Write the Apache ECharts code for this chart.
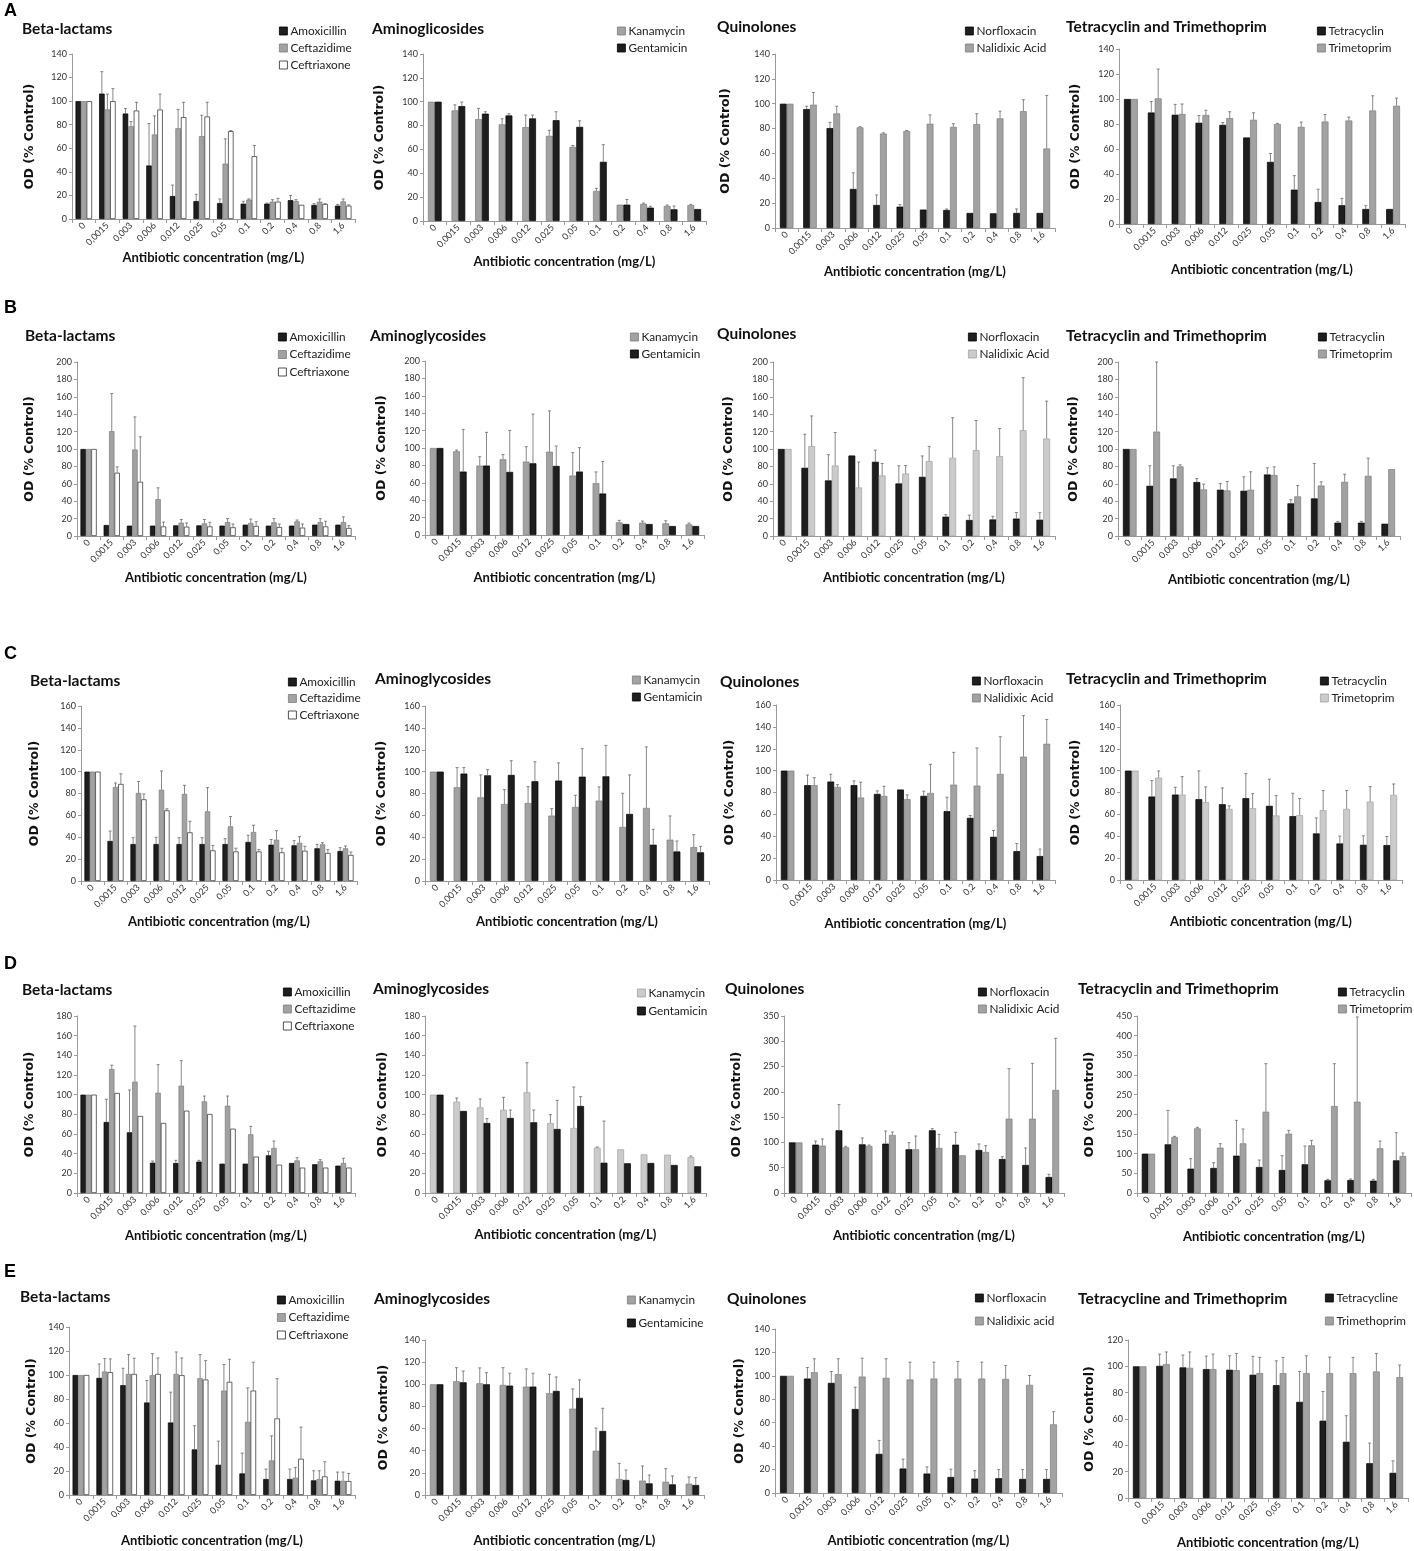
<!DOCTYPE html>
<html><head><meta charset="utf-8">
<script src="https://cdn.jsdelivr.net/npm/echarts@6/dist/echarts.min.js"></script>
<style>html,body{margin:0;padding:0;background:#fff}#c{width:1414px;height:1551px}</style>
</head><body><div id="c"></div><script>
// ---------- categories ----------
const concentrations = ['0','0,0015','0,003','0,006','0,012','0,025','0,05','0,1','0,2','0,4','0,8','1,6'];

// ---------- Row A ----------
const A1_amoxicillin      = [100,106.4,89.5,45.4,19.5,15.2,13.5,13,13,16,11.9,11.3];
const A1_amoxicillin_err  = [null,125,93.7,81,28.8,21,17,15,13.5,20,13,12.4];
const A1_ceftazidime      = [100,93,78.7,71.7,77,70.3,47,16.4,14.7,15.2,14.7,15];
const A1_ceftazidime_err  = [null,106,82.7,87.5,93,88,68,17,16.4,16.4,17,17];
const A1_ceftriaxone      = [100,100,92,92.9,86.4,87,74.5,53.3,14.7,12,12.7,11.3];
const A1_ceftriaxone_err  = [null,110.6,99,106,99,99,75,62.4,17.5,null,13,12];

const A2_kanamycin        = [100,92.7,85.4,81,78.7,71.4,62.2,25.2,13.7,14.3,12.6,13.4];
const A2_kanamycin_err    = [null,97.4,94.4,85.7,88.8,76,63.3,27.4,null,15,13.4,14];
const A2_gentamicin       = [100,96.3,90,88.5,86,84.5,78.9,49.6,13.7,11.2,9.8,10];
const A2_gentamicin_err   = [null,99.7,91.6,89.9,88.8,91.6,84,64,18,12.3,12.6,null];

const A3_norfloxacin      = [100,95.7,80.4,31.4,18.5,17.2,14.8,14.5,12.1,11.8,12.1,12.1];
const A3_norfloxacin_err  = [null,98,85,44.4,26.6,18.8,null,15.3,null,null,15.3,null];
const A3_nalidixic        = [100,99.2,92.2,81,76,78,83.9,81.4,83.6,88.2,94,64];
const A3_nalidixic_err    = [null,109,98,81.5,76.6,78.5,91,83.9,92,94,103.2,106.7];

const A4_tetracyclin      = [100,89.2,87.4,81,79.3,69.2,49.7,27.5,17.6,15,12,12];
const A4_tetracyclin_err  = [null,98,95.7,86.8,81.2,null,56.4,38.7,27.8,20.5,14.7,null];
const A4_trimetoprim      = [100,100.5,88,87.2,84.7,83.4,80,77.7,82,82.8,90.8,94.6];
const A4_trimetoprim_err  = [null,124,96,91,89.8,89,80.5,81.5,87.6,85.5,102.6,100.7];

// ---------- Row B ----------
const B1_amoxicillin      = [100,12.6,11.9,11.9,12.2,12.2,11.9,13,11.9,11.9,13,13];
const B1_amoxicillin_err  = [null,null,null,null,null,null,null,null,null,null,null,null];
const B1_ceftazidime      = [100,120.5,99.4,42.4,15.3,14.5,16,15,15.7,16.8,16,16];
const B1_ceftazidime_err  = [null,163.7,136.9,55.4,19,19,20,19.5,20,18.4,20,22];
const B1_ceftriaxone      = [100,72.7,62.3,11,10.7,11,10,11.5,10.3,9.6,11,9.2];
const B1_ceftriaxone_err  = [null,79.5,114,16,15,15.7,13.8,16.4,13.8,13.8,17,11.9];

const B2_kanamycin        = [100,96.2,79.8,87,84.4,95.8,68.3,59.5,14.5,14.1,13.4,12.2];
const B2_kanamycin_err    = [null,97.7,90,92.4,101.5,142.7,94.7,72.5,16.8,16,16.4,13.7];
const B2_gentamicin       = [100,72.9,79.8,72.5,82.4,79.4,72.9,47.7,12.6,12.6,10.3,10.3];
const B2_gentamicin_err   = [null,121.4,118,120.2,139,102.3,100.4,84.4,null,null,null,null];

const B3_norfloxacin      = [100,78.4,63.9,92.5,85.3,60.4,68,22.2,18.4,19,20,18.7];
const B3_norfloxacin_err  = [null,117,93.5,null,98.7,80.7,92,24.5,24,22.6,27,26.8];
const B3_nalidixic        = [100,103.3,81,55.8,69.6,71.9,86,89.9,98.7,91.8,121.6,112];
const B3_nalidixic_err    = [null,138,119,85,83.4,81,103,136,132.7,123.5,182,155];

const B4_tetracyclin      = [100,57.7,66.2,62,53.2,52,70.7,37.5,43.2,15.3,15.3,14.1];
const B4_tetracyclin_err  = [null,80.7,80.7,66,60.4,68,78.4,41.7,83.4,16.8,16.8,null];
const B4_trimetoprim      = [100,120,80,53.5,52.4,53.2,70,45.5,58,62.3,69.2,76.9];
const B4_trimetoprim_err  = [null,200,81.8,59.7,62.7,73.8,79.5,58,62.3,71,89.5,null];

// ---------- Row C ----------
const C1_amoxicillin      = [100,36.6,33.8,33.8,33.8,33.8,33.8,35.7,33.2,32.6,29.9,27.4];
const C1_amoxicillin_err  = [null,45.7,39.6,40,39.6,39.6,38.7,41.8,38,36.9,33.5,30.5];
const C1_ceftazidime      = [100,86,80.5,83.5,79.6,63.7,50,44.8,37.8,35,33.5,29.9];
const C1_ceftazidime_err  = [null,89.6,91,100.6,87.5,85.4,59,51,46,40.5,35,32];
const C1_ceftriaxone      = [100,88.7,74.7,64.6,44.5,28,27,27,26.2,27.7,25.6,23.8];
const C1_ceftriaxone_err  = [null,98,79.6,66,54.6,32.6,30,28.7,29.9,31.7,28.7,26.5];

const C2_kanamycin        = [100,85.7,76.5,70.4,71.3,59.8,67.7,73.5,49.4,66.8,37.8,31];
const C2_kanamycin_err    = [null,103.7,97,83.5,86.3,66.2,78.4,86,80.2,122.6,59.5,42.4];
const C2_gentamicin       = [100,98.2,96.6,97,91.2,91.8,95.4,95.7,61.3,33.2,27,26.2];
const C2_gentamicin_err   = [null,103.7,101.8,110,109,108,121,124,97,47.3,36.6,31.7];

const C3_norfloxacin      = [100,86.7,90,86.7,78.7,82.7,76.9,62.9,56.8,39.5,26.4,21.9];
const C3_norfloxacin_err  = [null,96,96.7,90.6,81.5,null,81.2,75.7,59,45.3,33.4,28.3];
const C3_nalidixic        = [100,86.7,85.1,75.4,76.9,73.9,79.6,87.2,86.3,97,112.8,124.6];
const C3_nalidixic_err    = [null,93.6,87.2,89.4,85.7,77.8,105.8,116.7,120.7,131,150.3,146.8];

const C4_tetracyclin      = [100,76.3,78.1,73.9,69.3,74.8,67.8,58.4,42.6,33.4,32.2,31.9];
const C4_tetracyclin_err  = [null,90.9,84.8,99.7,84.2,97.3,92.1,79.3,56.8,40.1,40.4,39.8];
const C4_trimetoprim      = [100,93.6,78.1,71.1,65,65.7,59,59.3,63.8,65,71.7,77.8];
const C4_trimetoprim_err  = [null,99.7,94.5,85.1,67.8,79,77.2,74.5,81.8,81.8,85.4,87.8];

// ---------- Row D ----------
const D1_amoxicillin      = [100,72.2,61.7,30.8,30.5,31.9,29.8,29.8,38.3,30.5,29.2,27.8];
const D1_amoxicillin_err  = [null,95.3,104.7,32.5,33.2,33.2,null,null,42.4,null,null,null];
const D1_ceftazidime      = [100,126.1,113.2,102,109.2,93.2,88.8,59.7,45.8,33.2,32.2,30.5];
const D1_ceftazidime_err  = [null,130,169.8,130.5,134.6,98.6,98.6,67.8,52.9,35.9,33.9,35.3];
const D1_ceftriaxone      = [100,101.7,78.3,71.2,83.7,80.3,65.4,37,28.8,25.8,25.8,25.8];
const D1_ceftriaxone_err  = [null,null,null,null,null,null,null,null,null,null,null,null];

const D2_kanamycin        = [100,92.9,87.1,84.7,102.4,71.2,66.1,46.1,44.4,39.3,39,36.6];
const D2_kanamycin_err    = [null,96.6,95.6,97.3,132.5,79.7,107.8,46.8,null,null,null,37.6];
const D2_gentamicin       = [100,83.4,71.2,76.3,71.9,65.1,88.5,30.8,30.2,30.5,28.5,27.1];
const D2_gentamicin_err   = [null,null,75.6,84.4,84.4,94.2,98,73.2,null,null,null,null];

const D3_norfloxacin      = [100,95.6,124,96.2,97.6,86.4,124,95.6,85,67.2,55.4,31.6];
const D3_norfloxacin_err  = [null,102.8,174.7,108.8,122.6,99.5,127.2,120,96.9,71.9,89,36.9];
const D3_nalidixic        = [100,93.6,90.3,93,114.7,86.4,89,74.5,81,147,147,203.7];
const D3_nalidixic_err    = [null,106.8,92.3,94.9,120.6,112.7,116,null,93.6,245.9,256.4,305.9];

const D4_tetracyclin      = [100,123.7,61.9,63.6,94.9,66.1,58.5,72.9,32.2,33,31.4,83];
const D4_tetracyclin_err  = [null,210,87.3,77.1,184.7,83.9,94.9,119.5,34.7,35.6,34.7,153.4];
const D4_trimetoprim      = [100,142.4,164.4,115.3,126.3,206.8,150.8,121.2,221.2,232.2,113.6,94.1];
const D4_trimetoprim_err  = [null,144,167,125.4,162.7,328.8,159.3,133.9,328.8,447.5,132.2,101.7];

// ---------- Row E ----------
const E1_amoxicillin      = [100,97.6,91.5,77.1,60.4,38,25.2,18,13.3,13.3,12.2,11.9];
const E1_amoxicillin_err  = [null,109.2,105.6,95.4,85.7,57.7,44.9,34.9,21.6,21.6,20.2,19.1];
const E1_ceftazidime      = [100,102.9,100.9,99.8,100.9,97.3,87,61,28.8,14.4,13.3,11.9];
const E1_ceftazidime_err  = [null,113.7,117,117.8,119.2,117,108.7,89.3,49.3,23,20.2,19.1];
const E1_ceftriaxone      = [100,102.3,100.9,100.9,99.8,96.2,94.3,87,63.8,30.2,15.5,11.6];
const E1_ceftriaxone_err  = [null,113.4,114,114.2,114.2,112,113.1,110.6,97,56.6,27.7,18];

const E2_kanamycin        = [100,102.7,100.9,99.4,97.9,91.9,78,40,14.5,13,12,10.2];
const E2_kanamycin_err    = [null,115,114.8,115,113.9,109,95.8,60.5,28.6,26.2,23.8,16.3];
const E2_gentamicine      = [100,101.8,100,98.8,97.9,94,87.7,57.8,13.6,10.5,9.6,9];
const E2_gentamicine_err  = [null,112,110.5,110,110,106.6,104,78.3,22.6,18,17.2,15.7];

const E3_norfloxacin      = [100,97.7,94,71.7,33.4,20.9,16.6,13.7,12.3,12.6,12,12];
const E3_norfloxacin_err  = [null,107.1,103.7,90.3,44.9,28.9,22.3,20.3,19.1,20,20,20];
const E3_nalidixic        = [100,103.1,101.4,99.4,98.3,96.9,97.7,97.7,97.7,97.4,92.3,58.6];
const E3_nalidixic_err    = [null,114.6,114.6,115.1,114.6,111.7,111.7,112.3,111.7,108.9,100.3,69.4];

const E4_tetracycline     = [100,100.4,99.2,97.9,97.4,93.6,85.7,73,58.7,42.7,26.4,19.1];
const E4_tetracycline_err = [null,109.3,108.6,107.8,108,107.6,104.2,96.1,80.9,62.5,41.7,28.2];
const E4_trimethoprim     = [100,101.7,98.9,97.9,97.1,94.8,94.8,94.8,94.8,94.8,96.1,91.8];
const E4_trimethoprim_err = [null,110.9,110.9,109.3,109.8,106.8,106.8,108,107,106.8,109.8,101];

// ---------- styles ----------
const BLACK = {color:'#1e1e1e', borderColor:'#000000'};
const GRAY  = {color:'#a2a2a2', borderColor:'#7c7c7c'};
const LIGHT = {color:'#cbcbcb', borderColor:'#a2a2a2'};
const WHITE = {color:'#ffffff', borderColor:'#262626'};

// layout: t = title [x, centerY]; lg = legend [x, firstCenterY, spacing];
// g = grid [left, top, width, height]; y = [max, interval]; ng = [xNameGap, yNameGap]
const panels = [
 {title:'Beta-lactams', t:[22,30], lg:[279,31,17], g:[72,54,283,165], y:[140,20], ng:[32,36],
  s:[['Amoxicillin',A1_amoxicillin,A1_amoxicillin_err,BLACK],['Ceftazidime',A1_ceftazidime,A1_ceftazidime_err,GRAY],['Ceftriaxone',A1_ceftriaxone,A1_ceftriaxone_err,WHITE]]},
 {title:'Aminoglicosides', t:[372,30], lg:[617,31,17], g:[423,54,283,167], y:[140,20], ng:[34,37],
  s:[['Kanamycin',A2_kanamycin,A2_kanamycin_err,GRAY],['Gentamicin',A2_gentamicin,A2_gentamicin_err,BLACK]]},
 {title:'Quinolones', t:[717,28], lg:[965,31,17], g:[775,54,280,174], y:[140,20], ng:[37,43],
  s:[['Norfloxacin',A3_norfloxacin,A3_norfloxacin_err,BLACK],['Nalidixic Acid',A3_nalidixic,A3_nalidixic_err,GRAY]]},
 {title:'Tetracyclin and Trimethoprim', t:[1066,28], lg:[1317,31,17], g:[1119,49,286,175], y:[140,20], ng:[39,37],
  s:[['Tetracyclin',A4_tetracyclin,A4_tetracyclin_err,BLACK],['Trimetoprim',A4_trimetoprim,A4_trimetoprim_err,GRAY]]},

 {title:'Beta-lactams', t:[25,337], lg:[278,337,17.5], g:[77,362,278,174], y:[200,20], ng:[35,41],
  s:[['Amoxicillin',B1_amoxicillin,B1_amoxicillin_err,BLACK],['Ceftazidime',B1_ceftazidime,B1_ceftazidime_err,GRAY],['Ceftriaxone',B1_ceftriaxone,B1_ceftriaxone_err,WHITE]]},
 {title:'Aminoglycosides', t:[370,337], lg:[630,337,17], g:[425,361,279,174], y:[200,20], ng:[36,37],
  s:[['Kanamycin',B2_kanamycin,B2_kanamycin_err,GRAY],['Gentamicin',B2_gentamicin,B2_gentamicin_err,BLACK]]},
 {title:'Quinolones', t:[717,335], lg:[968,337,17], g:[773,362,282,174], y:[200,20], ng:[35,38],
  s:[['Norfloxacin',B3_norfloxacin,B3_norfloxacin_err,BLACK],['Nalidixic Acid',B3_nalidixic,B3_nalidixic_err,LIGHT]]},
 {title:'Tetracyclin and Trimethoprim', t:[1066,337], lg:[1318,337,17], g:[1118,362,282,174], y:[200,20], ng:[37,38],
  s:[['Tetracyclin',B4_tetracyclin,B4_tetracyclin_err,BLACK],['Trimetoprim',B4_trimetoprim,B4_trimetoprim_err,GRAY]]},

 {title:'Beta-lactams', t:[30,682], lg:[288,682,16.5], g:[81,706,276,175], y:[160,20], ng:[34,40],
  s:[['Amoxicillin',C1_amoxicillin,C1_amoxicillin_err,BLACK],['Ceftazidime',C1_ceftazidime,C1_ceftazidime_err,GRAY],['Ceftriaxone',C1_ceftriaxone,C1_ceftriaxone_err,WHITE]]},
 {title:'Aminoglycosides', t:[375,680], lg:[632,680,17], g:[425,706,284,175], y:[160,20], ng:[34,37],
  s:[['Kanamycin',C2_kanamycin,C2_kanamycin_err,GRAY],['Gentamicin',C2_gentamicin,C2_gentamicin_err,BLACK]]},
 {title:'Quinolones', t:[720,683], lg:[972,681,17], g:[776,705,279,175], y:[160,20], ng:[37,40],
  s:[['Norfloxacin',C3_norfloxacin,C3_norfloxacin_err,BLACK],['Nalidixic Acid',C3_nalidixic,C3_nalidixic_err,GRAY]]},
 {title:'Tetracyclin and Trimethoprim', t:[1066,680], lg:[1320,681,17], g:[1120,705,282,175], y:[160,20], ng:[35,38],
  s:[['Tetracyclin',C4_tetracyclin,C4_tetracyclin_err,BLACK],['Trimetoprim',C4_trimetoprim,C4_trimetoprim_err,LIGHT]]},

 {title:'Beta-lactams', t:[22,991], lg:[283,992,17], g:[77,1016,278,177], y:[180,20], ng:[36,41],
  s:[['Amoxicillin',D1_amoxicillin,D1_amoxicillin_err,BLACK],['Ceftazidime',D1_ceftazidime,D1_ceftazidime_err,GRAY],['Ceftriaxone',D1_ceftriaxone,D1_ceftriaxone_err,WHITE]]},
 {title:'Aminoglycosides', t:[373,990], lg:[637,993,18], g:[425,1016,281,177], y:[180,20], ng:[35,36],
  s:[['Kanamycin',D2_kanamycin,D2_kanamycin_err,LIGHT],['Gentamicin',D2_gentamicin,D2_gentamicin_err,BLACK]]},
 {title:'Quinolones', t:[725,990], lg:[978,992,17], g:[784,1016,280,177], y:[350,50], ng:[36,41],
  s:[['Norfloxacin',D3_norfloxacin,D3_norfloxacin_err,BLACK],['Nalidixic Acid',D3_nalidixic,D3_nalidixic_err,GRAY]]},
 {title:'Tetracyclin and Trimethoprim', t:[1078,990], lg:[1338,992,17], g:[1137,1016,274,177], y:[450,50], ng:[37,41],
  s:[['Tetracyclin',D4_tetracyclin,D4_tetracyclin_err,BLACK],['Trimetoprim',D4_trimetoprim,D4_trimetoprim_err,GRAY]]},

 {title:'Beta-lactams', t:[20,1298], lg:[277,1300,17.5], g:[69,1327,286,168], y:[140,20], ng:[39,31],
  s:[['Amoxicillin',E1_amoxicillin,E1_amoxicillin_err,BLACK],['Ceftazidime',E1_ceftazidime,E1_ceftazidime_err,GRAY],['Ceftriaxone',E1_ceftriaxone,E1_ceftriaxone_err,WHITE]]},
 {title:'Aminoglycosides', t:[374,1300], lg:[627,1300,23], g:[425,1340,279,155], y:[140,20], ng:[39,35],
  s:[['Kanamycin',E2_kanamycin,E2_kanamycin_err,GRAY],['Gentamicine',E2_gentamicine,E2_gentamicine_err,BLACK]]},
 {title:'Quinolones', t:[727,1300], lg:[975,1298,23], g:[775,1329,287,164], y:[140,20], ng:[41,29],
  s:[['Norfloxacin',E3_norfloxacin,E3_norfloxacin_err,BLACK],['Nalidixic acid',E3_nalidixic,E3_nalidixic_err,GRAY]]},
 {title:'Tetracycline and Trimethoprim', t:[1078,1300], lg:[1325,1298,23], g:[1128,1340,280,158], y:[120,20], ng:[38,32],
  s:[['Tetracycline',E4_tetracycline,E4_tetracycline_err,BLACK],['Trimethoprim',E4_trimethoprim,E4_trimethoprim_err,GRAY]]}
];

// panel letters: [text, x, centerY]
const rowLetters = [['A',4,12],['B',4,309],['C',4,655],['D',4,965],['E',4,1273]];

const FONT = 'Lato, "Open Sans", sans-serif';
const option = {animation:false, backgroundColor:'#ffffff',
  title:[], legend:[], grid:[], xAxis:[], yAxis:[], series:[]};

rowLetters.forEach(([txt,x,cy])=>{
  option.title.push({text:txt, left:x, top:cy-10, padding:0,
    textStyle:{fontFamily:'"Liberation Sans", Arial, sans-serif', fontWeight:'bold', fontSize:18, color:'#000'}});
});

function errSeries(pi, k, n, gapFrac, vals, tops){
  const data=[];
  vals.forEach((v,i)=>{ if(tops[i]!=null) data.push([i,tops[i],v]); });
  return {type:'custom', xAxisIndex:pi, yAxisIndex:pi, z:5, silent:true,
    encode:{x:0,y:1}, data:data,
    renderItem:function(params,api){
      const i=api.value(0), top=api.value(1), v=api.value(2);
      const p0=api.coord([i,v]), p1=api.coord([i,top]);
      const band=api.size([1,0])[0];
      const inner=band*(1-gapFrac), w=inner/n;
      const x=p0[0]-inner/2+w*(k+0.5);
      return {type:'group', children:[
        {type:'line', shape:{x1:x,y1:p0[1],x2:x,y2:p1[1]}, style:{stroke:'#6a6a6a',lineWidth:0.8}},
        {type:'line', shape:{x1:x-1.5,y1:p1[1],x2:x+1.5,y2:p1[1]}, style:{stroke:'#6a6a6a',lineWidth:0.8}}]};
    }};
}

panels.forEach((p,pi)=>{
  const n=p.s.length;
  const gapFrac = n===3 ? 0.30 : 0.42;
  option.title.push({text:p.title, left:p.t[0], top:p.t[1]-9, padding:0,
    textStyle:{fontFamily:FONT, fontWeight:'bold', fontSize:15.5, color:'#111'}});
  option.legend.push({orient:'vertical', left:p.lg[0], top:p.lg[1]-7, padding:0,
    itemWidth:8, itemHeight:8, itemGap:p.lg[2]-14, icon:'rect', selectedMode:false,
    textStyle:{fontFamily:FONT, fontSize:11.8, color:'#222', lineHeight:14, padding:[0,0,0,-2]},
    data:p.s.map(s=>({name:s[0], itemStyle:{color:s[3].color, borderColor:s[3].borderColor, borderWidth:0.8}}))});
  option.grid.push({left:p.g[0], top:p.g[1], width:p.g[2], height:p.g[3], containLabel:false});
  option.xAxis.push({type:'category', gridIndex:pi, data:concentrations,
    name:'Antibiotic concentration (mg/L)', nameLocation:'middle', nameGap:p.ng[0],
    nameTextStyle:{fontFamily:FONT, fontWeight:'bold', fontSize:13, color:'#111'},
    axisLine:{lineStyle:{color:'#9a9a9a', width:1}},
    axisTick:{show:true, length:4, lineStyle:{color:'#9a9a9a'}},
    axisLabel:{rotate:45, interval:0, fontFamily:FONT, fontSize:9, color:'#333', margin:5}});
  option.yAxis.push({type:'value', gridIndex:pi, min:0, max:p.y[0], interval:p.y[1],
    name:'OD (% Control)', nameLocation:'middle', nameGap:p.ng[1],
    nameTextStyle:{fontFamily:'"DejaVu Sans", sans-serif', fontWeight:'bold', fontSize:12.5, color:'#111'},
    axisLine:{show:true, lineStyle:{color:'#9a9a9a', width:1}},
    axisTick:{show:true, length:3, lineStyle:{color:'#9a9a9a'}},
    splitLine:{show:false},
    axisLabel:{fontFamily:FONT, fontSize:9, color:'#333', margin:5}});
  p.s.forEach((s,k)=>{
    option.series.push({type:'bar', name:s[0], xAxisIndex:pi, yAxisIndex:pi, data:s[1],
      barGap:'0%', barCategoryGap:(gapFrac*100)+'%', z:2,
      itemStyle:{color:s[3].color, borderColor:s[3].borderColor, borderWidth:0.7}});
  });
  p.s.forEach((s,k)=>{
    option.series.push(errSeries(pi,k,n,gapFrac,s[1],s[2]));
  });
});

const chart = echarts.init(document.getElementById('c'), null, {renderer:'canvas'});
chart.setOption(option);
</script></body></html>
